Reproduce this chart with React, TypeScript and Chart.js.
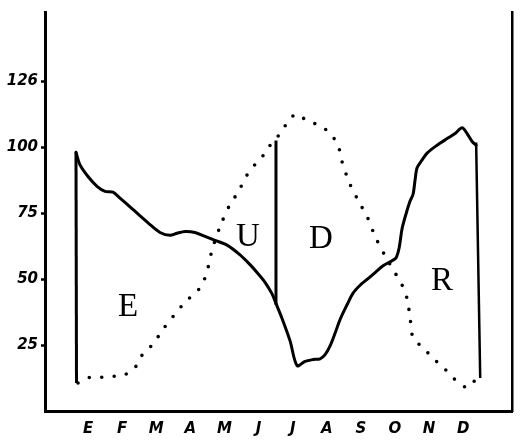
import React, { useEffect, useRef } from 'react';
import { Chart, registerables } from 'chart.js';

Chart.register(...registerables);

// Month initials (Spanish): Enero ... Diciembre
const monthLabels = ['E', 'F', 'M', 'A', 'M', 'J', 'J', 'A', 'S', 'O', 'N', 'D'];

// Y-axis ticks as printed on the chart
const yTickValues = [25, 50, 75, 100, 125];
const yTickLabels = ['25', '50', '75', '100', '126'];

// Solid curve (month position, value)
const solidMonth = [
  0.145, 0.263, 0.497, 0.761, 0.996, 1.23, 1.436, 1.671, 2.023, 2.316, 2.609, 2.903,
  3.108, 3.343, 3.636, 3.93, 4.223, 4.575, 4.956, 5.249, 5.455, 5.689, 5.895, 6.012,
  6.188, 6.423, 6.628, 6.863, 7.098, 7.303, 7.45, 7.597, 7.743, 7.89, 8.095, 8.271,
  8.476, 8.682, 8.917, 9.151, 9.415, 9.533, 9.621, 9.709, 9.826, 9.943, 10.031, 10.09,
  10.149, 10.296, 10.442, 10.736, 11.029, 11.263, 11.469, 11.616, 11.762, 11.88,
];
const solidValue = [
  98.1, 93.3, 88.9, 85.2, 83.3, 83.0, 80.7, 78.1, 74.0, 70.7, 67.7, 66.6,
  67.4, 68.1, 67.7, 66.2, 64.7, 62.9, 59.2, 55.5, 52.5, 48.8, 44.4, 40.7,
  35.1, 26.6, 17.2, 18.8, 19.5, 19.8, 21.4, 24.7, 29.5, 34.7, 40.3, 44.7,
  47.7, 49.9, 52.5, 55.1, 57.0, 58.1, 61.8, 69.2, 74.8, 79.6, 82.2, 87.7,
  92.2, 95.2, 97.8, 100.8, 103.3, 105.2, 107.4, 105.2, 102.2, 100.8,
];

// Dotted curve (month position, value)
const dottedMonth = [
  0.204, 0.556, 0.937, 1.289, 1.524, 1.818, 1.964, 2.111, 2.405, 2.698, 2.991, 3.402,
  3.637, 3.871, 4.018, 4.135, 4.37, 4.664, 4.898, 5.162, 5.456, 5.69, 5.837, 6.131,
  6.424, 6.63, 6.923, 7.305, 7.598, 7.832, 7.95, 8.184, 8.477, 8.683, 8.918, 9.211,
  9.446, 9.71, 9.857, 9.945, 10.033, 10.326, 10.62, 10.913, 11.206, 11.411, 11.617, 11.852,
];
const dottedValue = [
  10.6, 12.8, 12.8, 13.2, 13.6, 15.4, 18.4, 21.7, 25.4, 31.0, 35.8, 42.1,
  44.4, 48.7, 54.4, 61.0, 69.9, 78.4, 82.9, 89.5, 94.4, 97.7, 100.7, 105.2,
  110.8, 112.6, 110.0, 108.2, 105.2, 100.7, 94.4, 85.9, 78.5, 73.7, 66.2, 58.8,
  53.6, 47.7, 42.5, 35.1, 27.7, 24.0, 19.9, 16.6, 12.5, 10.6, 8.8, 11.7,
];

// Vertical separator lines
const leftBarMonth = [0.145, 0.16];
const leftBarValue = [98.1, 10.6];
const midBarMonth = [6.01, 6.01];
const midBarValue = [102.6, 40.3];
const rightBarMonth = [11.88, 12.0];
const rightBarValue = [101.8, 12.5];

// Region letters and their anchor (centre) in data units
const regionLetters = ['E', 'U', 'D', 'R'];
const regionMonth = [1.67, 5.19, 7.33, 10.88];
const regionValue = [40.3, 66.8, 65.9, 49.9];

const toPoints = (xs: number[], ys: number[]) => xs.map((x, i) => ({ x, y: ys[i] }));

const X_MIN = -0.764;
const X_MAX = 12.932;
const Y_MIN = 0;
const Y_MAX = 151.3;

const tickFont = { family: '"DejaVu Sans", sans-serif', size: 15, weight: 'bold' as const, style: 'italic' as const };

const letterPlugin = {
  id: 'regionLetters',
  afterDatasetsDraw(chart: any) {
    const { ctx, scales } = chart;
    const x = scales.x;
    const y = scales.y;
    ctx.save();
    ctx.font = '33px "Liberation Serif", serif';
    ctx.fillStyle = '#000';
    ctx.textAlign = 'center';
    ctx.textBaseline = 'alphabetic';
    regionLetters.forEach((t, i) => {
      ctx.fillText(t, x.getPixelForValue(regionMonth[i]), y.getPixelForValue(regionValue[i]) + 11);
    });
    ctx.restore();
  },
};

export default function App() {
  const canvasRef = useRef<HTMLCanvasElement | null>(null);

  useEffect(() => {
    if (!canvasRef.current) return;
    const lineBase = { pointRadius: 0, pointHoverRadius: 0, fill: false, borderColor: '#000' };
    const chart = new Chart(canvasRef.current, {
      type: 'line',
      data: {
        datasets: [
          { ...lineBase, data: toPoints(solidMonth, solidValue), borderWidth: 3, tension: 0.3, borderJoinStyle: 'round', borderCapStyle: 'round' },
          { ...lineBase, data: toPoints(dottedMonth, dottedValue), borderWidth: 3.6, tension: 0.3, borderDash: [0, 12.5], borderCapStyle: 'round' },
          { ...lineBase, data: toPoints(leftBarMonth, leftBarValue), borderWidth: 3, tension: 0 },
          { ...lineBase, data: toPoints(midBarMonth, midBarValue), borderWidth: 3, tension: 0 },
          { ...lineBase, data: toPoints(rightBarMonth, rightBarValue), borderWidth: 2.5, tension: 0 },
        ] as any,
      },
      options: {
        animation: false,
        responsive: false,
        devicePixelRatio: 1,
        layout: { padding: { top: 3, right: 10, left: 0, bottom: 0 } },
        plugins: { legend: { display: false }, tooltip: { enabled: false } },
        events: [],
        scales: {
          x: {
            type: 'linear',
            min: X_MIN,
            max: X_MAX,
            afterBuildTicks: (s: any) => {
              s.ticks = monthLabels.map((_, i) => ({ value: i + 0.5 }));
            },
            afterFit: (s: any) => {
              s.height = 34;
            },
            ticks: {
              autoSkip: false,
              maxRotation: 0,
              padding: 9,
              color: '#000',
              font: tickFont,
              callback: (v: any) => monthLabels[Math.round(Number(v) - 0.5)] ?? '',
            },
            grid: { display: false, drawTicks: false },
            border: { display: true, color: '#000', width: 3 },
          },
          y: {
            type: 'linear',
            position: 'left',
            min: Y_MIN,
            max: Y_MAX,
            afterBuildTicks: (s: any) => {
              s.ticks = yTickValues.map((v) => ({ value: v }));
            },
            afterFit: (s: any) => {
              s.width = 45;
            },
            ticks: {
              padding: 3,
              color: '#000',
              font: tickFont,
              callback: (v: any) => {
                const i = yTickValues.indexOf(Number(v));
                return i >= 0 ? yTickLabels[i] : '';
              },
            },
            grid: { display: true, drawOnChartArea: false, drawTicks: true, tickLength: 4, tickWidth: 2.5, tickColor: '#000' },
            border: { display: true, color: '#000', width: 3 },
          },
          yR: {
            type: 'linear',
            position: 'right',
            min: Y_MIN,
            max: Y_MAX,
            afterFit: (s: any) => {
              s.width = 0;
            },
            ticks: { display: false },
            grid: { display: false, drawTicks: false },
            border: { display: true, color: '#000', width: 2.5 },
          },
        },
      } as any,
      plugins: [letterPlugin],
    });
    return () => chart.destroy();
  }, []);

  return (
    <div style={{ position: 'absolute', left: 0, top: 0, width: 522, height: 445, background: '#fff' }}>
      <canvas ref={canvasRef} width={522} height={445} style={{ display: 'block', width: 522, height: 445 }} />
    </div>
  );
}
